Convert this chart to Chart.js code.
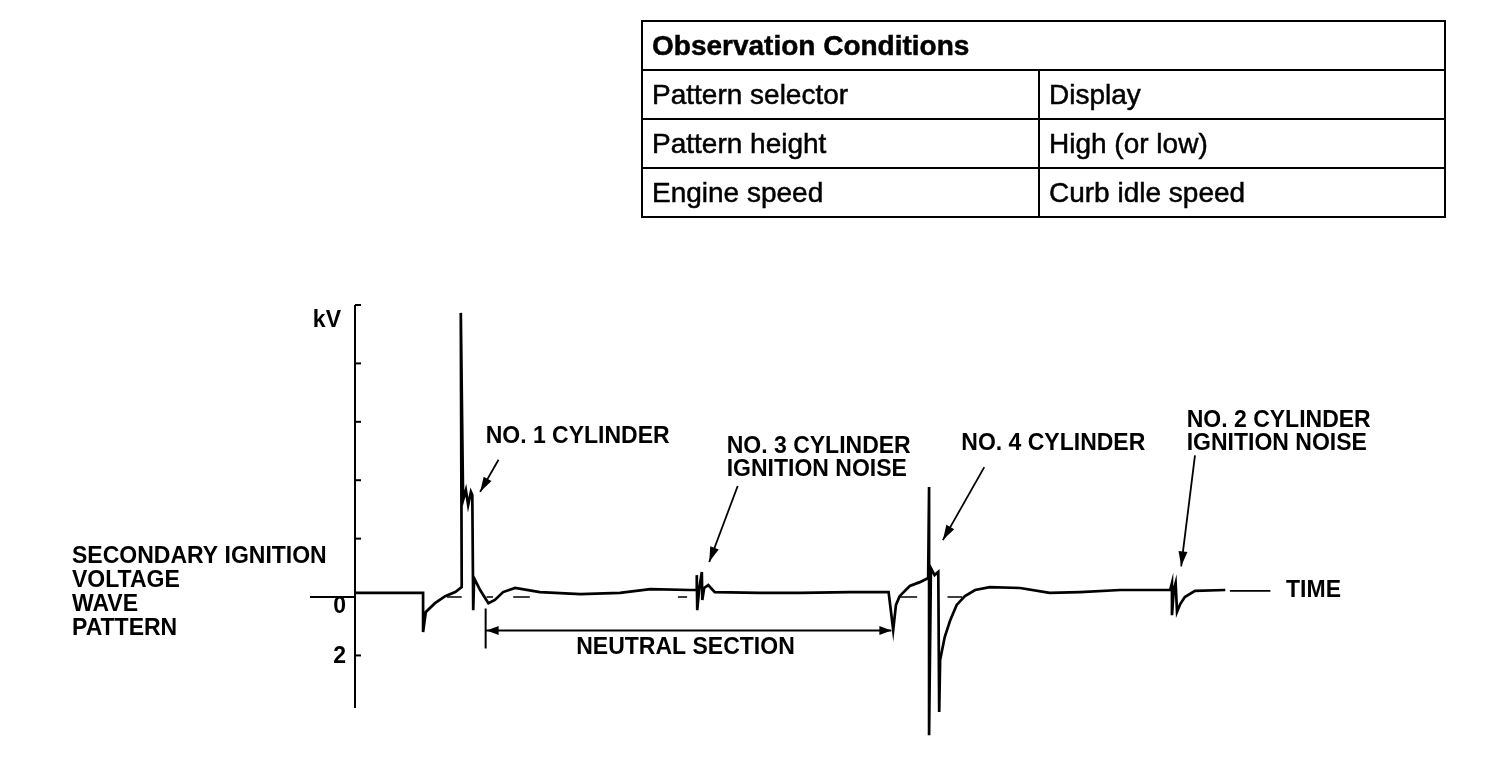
<!DOCTYPE html>
<html>
<head>
<meta charset="utf-8">
<script src="https://cdn.jsdelivr.net/npm/chart.js@4.4.1/dist/chart.umd.min.js"></script>
<style>
  body { margin: 0; background: #fff; }
  #wrap { position: relative; width: 1504px; height: 760px; }
  #waveChart { position: absolute; left: 0; top: 0; }
  table.cond {
    position: absolute; left: 641px; top: 20px; width: 805px;
    border-collapse: collapse; font-family: "Liberation Sans", Arial, sans-serif;
    color: #000;
  }
  table.cond td {
    border: 2px solid #000; height: 47px; padding: 0 0 0 9px;
    font-size: 28px; vertical-align: middle; -webkit-text-stroke: 0.5px #000;
  }
  table.cond td.head { font-weight: bold; font-size: 28px; }
  table.cond td.left { width: 386px; }
</style>
</head>
<body>
<div id="wrap">
  <canvas id="waveChart" width="1504" height="760"></canvas>
  <table class="cond">
    <tr><td class="head" colspan="2">Observation Conditions</td></tr>
    <tr><td class="left">Pattern selector</td><td>Display</td></tr>
    <tr><td class="left">Pattern height</td><td>High (or low)</td></tr>
    <tr><td class="left">Engine speed</td><td>Curb idle speed</td></tr>
  </table>
</div>
<script>
// Secondary ignition voltage wave (time in arbitrary units, kV positive = downward on scope)
const waveTime = [0, 7.4, 7.4, 7.7, 8.7, 9.8, 10.9, 11.6, 11.5, 11.75, 12.05, 12.3, 12.6, 12.75, 12.85, 12.95,
  13.6, 14.5, 15.2, 16.1, 17.4, 20.1, 24.5, 28.8, 32.1, 36.4, 37.15, 37.15, 37.2, 37.4, 37.7, 37.75, 37.95,
  38.4, 39.1, 44.0, 48.4, 53.8, 58.0, 58.5, 58.8, 59.2, 60.3, 61.4, 62.3, 62.4, 62.4, 62.6, 63.0, 63.4, 63.5,
  63.6, 64.1, 64.7, 65.4, 66.3, 67.4, 69.0, 72.3, 75.5, 78.8, 83.2, 88.6, 88.8, 88.8, 89.0, 89.2, 89.35,
  89.7, 90.2, 91.3, 94.6];
const waveKV = [-0.14, -0.14, 1.2, 0.51, 0.21, -0.03, -0.17, -0.34, -9.73, -3.32, -3.66, -3.15, -3.6, -3.49, 0.45, -0.65,
  -0.24, 0.21, 0.1, -0.17, -0.31, -0.17, -0.1, -0.14, -0.27, -0.24, -0.24, -0.75, 0.45, -0.24, -0.86, 0.1, -0.31,
  -0.41, -0.17, -0.14, -0.14, -0.17, -0.17, 1.13, 0.27, -0.03, -0.38, -0.51, -0.65, -3.77, 4.73, -0.99, -0.75, -0.86, 3.94,
  2.16, 1.37, 0.79, 0.27, -0.03, -0.24, -0.34, -0.31, -0.14, -0.17, -0.24, -0.24, -0.48, 0.62, -0.24, -0.48, 0.51,
  0.24, 0.0, -0.21, -0.24];

// visible pieces of the dashed zero reference
const zeroDashStart = [10.0, 14.3, 17.2, 35.1, 59.2, 64.4];
const zeroDashEnd = [11.6, 15.0, 19.0, 36.1, 61.1, 66.0];

// the "TIME" axis stub
const timeStubTime = [95.1, 99.5];
const timeStubKV = [-0.21, -0.21];

// axis ticks
const kvTicks = [-10, -8, -6, -4, -2, 0, 2];
const kvTickLabels = ["", "", "", "", "", "0", "2"];

// neutral section span
const neutralStart = 14.2;
const neutralEnd = 58.3;
const neutralKV = 1.15;

// callouts: text lines, label position (time, kV), arrow from -> to
const callouts = [
  { lines: ["NO. 1 CYLINDER"], at: [14.2, -5.5], from: [15.6, -4.7], to: [13.6, -3.6] },
  { lines: ["NO. 3 CYLINDER", "IGNITION NOISE"], at: [40.4, -5.15], from: [41.6, -3.8], to: [38.5, -1.2] },
  { lines: ["NO. 4 CYLINDER"], at: [65.9, -5.25], from: [68.4, -4.45], to: [63.9, -1.95] },
  { lines: ["NO. 2 CYLINDER", "IGNITION NOISE"], at: [90.4, -6.05], from: [91.3, -4.85], to: [89.8, -1.05] }
];
const sideLabel = ["SECONDARY IGNITION", "VOLTAGE", "WAVE", "PATTERN"];

const toPoints = (xs, ys) => xs.map((x, i) => ({ x: x, y: ys[i] }));
const dashPoints = [];
zeroDashStart.forEach((s, i) => {
  dashPoints.push({ x: s, y: 0 }, { x: zeroDashEnd[i], y: 0 }, { x: zeroDashEnd[i], y: null });
});
const FONT = 'bold 23px "Liberation Sans", Arial, sans-serif';

function arrowHead(ctx, x1, y1, x2, y2, len, half) {
  const a = Math.atan2(y2 - y1, x2 - x1);
  ctx.beginPath();
  ctx.moveTo(x2, y2);
  ctx.lineTo(x2 - len * Math.cos(a) + half * Math.sin(a), y2 - len * Math.sin(a) - half * Math.cos(a));
  ctx.lineTo(x2 - len * Math.cos(a) - half * Math.sin(a), y2 - len * Math.sin(a) + half * Math.cos(a));
  ctx.closePath();
  ctx.fill();
}

const scopeDecor = {
  id: "scopeDecor",
  afterDraw(chart) {
    const ctx = chart.ctx;
    const xs = chart.scales.x, ys = chart.scales.y;
    const px = v => xs.getPixelForValue(v), py = v => ys.getPixelForValue(v);
    const ax = chart.chartArea.left;
    ctx.save();
    ctx.strokeStyle = "#000";
    ctx.fillStyle = "#000";
    ctx.lineCap = "butt";

    // vertical kV axis with inward ticks
    ctx.lineWidth = 2;
    ctx.beginPath();
    ctx.moveTo(ax, chart.chartArea.top);
    ctx.lineTo(ax, chart.chartArea.bottom);
    ctx.stroke();
    kvTicks.forEach(v => {
      ctx.beginPath();
      if (v === 0) {
        ctx.moveTo(ax - 45, py(v));
        ctx.lineTo(ax, py(v));
      } else {
        ctx.moveTo(ax, py(v));
        ctx.lineTo(ax + 6, py(v));
      }
      ctx.stroke();
    });

    ctx.font = FONT;
    ctx.textBaseline = "middle";
    ctx.textAlign = "right";
    kvTicks.forEach((v, i) => {
      if (kvTickLabels[i]) ctx.fillText(kvTickLabels[i], ax - 9, py(v) + (v === 0 ? 10 : 1));
    });
    ctx.fillText("kV", ax - 14, py(-9.45));

    // side title
    ctx.textAlign = "left";
    sideLabel.forEach((t, i) => ctx.fillText(t, 72, 557 + i * 24));

    // callouts
    callouts.forEach(c => {
      c.lines.forEach((t, i) => ctx.fillText(t, px(c.at[0]), py(c.at[1]) + i * 23));
      const x1 = px(c.from[0]), y1 = py(c.from[1]), x2 = px(c.to[0]), y2 = py(c.to[1]);
      ctx.lineWidth = 1.8;
      ctx.beginPath();
      ctx.moveTo(x1, y1);
      ctx.lineTo(x2, y2);
      ctx.stroke();
      arrowHead(ctx, x1, y1, x2, y2, 15, 4.5);
    });

    // neutral section
    const nx1 = px(neutralStart), nx2 = px(neutralEnd), ny = py(neutralKV);
    ctx.lineWidth = 2;
    ctx.beginPath();
    ctx.moveTo(nx1, ny - 22);
    ctx.lineTo(nx1, ny + 18);
    ctx.moveTo(nx1, ny);
    ctx.lineTo(nx2, ny);
    ctx.stroke();
    arrowHead(ctx, nx2, ny, nx1 + 1, ny, 12, 4.5);
    arrowHead(ctx, nx1, ny, nx2, ny, 12, 4.5);
    ctx.textAlign = "center";
    ctx.fillText("NEUTRAL SECTION", px((neutralStart + neutralEnd) / 2) - 3, ny + 17);

    // time label
    ctx.textAlign = "left";
    ctx.fillText("TIME", px(101.2), py(-0.21));
    ctx.restore();
  }
};

new Chart(document.getElementById("waveChart"), {
  type: "line",
  data: {
    datasets: [
      {
        data: toPoints(waveTime, waveKV),
        borderColor: "#000", borderWidth: 2.7, pointRadius: 0, tension: 0, clip: false, order: 0
      },
      {
        data: dashPoints,
        borderColor: "#000", borderWidth: 1.6, pointRadius: 0, spanGaps: false, order: 2
      },
      {
        data: toPoints(timeStubTime, timeStubKV),
        borderColor: "#000", borderWidth: 1.6, pointRadius: 0, order: 1
      }
    ]
  },
  options: {
    responsive: false,
    animation: false,
    devicePixelRatio: 1,
    layout: { padding: { left: 355, right: 229, top: 305, bottom: 52 } },
    plugins: { legend: { display: false }, tooltip: { enabled: false } },
    scales: {
      x: { type: "linear", min: 0, max: 100, display: false },
      y: { type: "linear", min: -10, max: 3.8, reverse: true, display: false }
    }
  },
  plugins: [scopeDecor]
});
</script>
</body>
</html>
